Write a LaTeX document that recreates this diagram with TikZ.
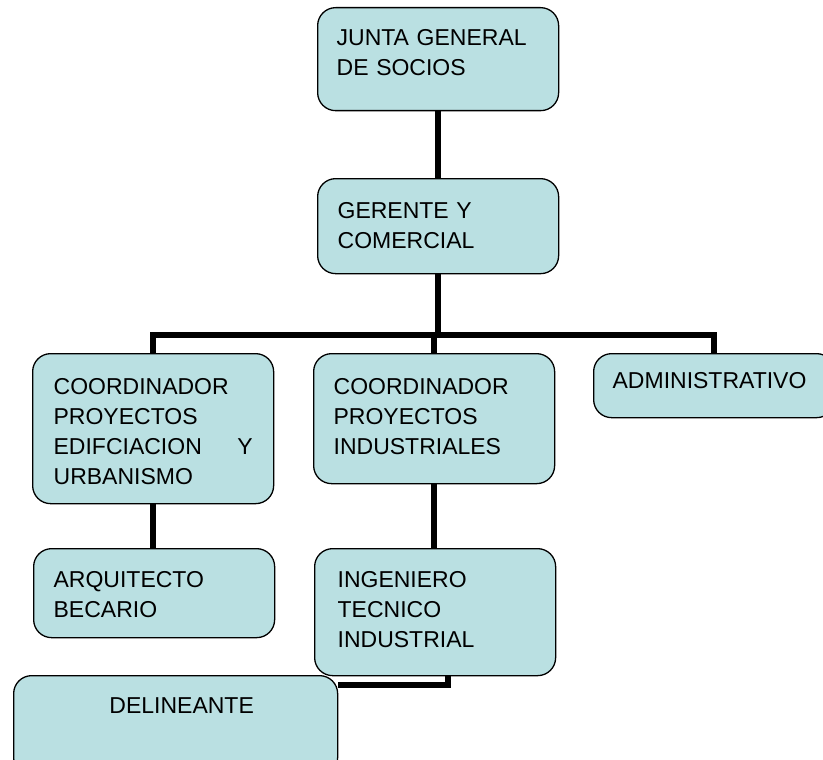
\documentclass[tikz,border=0pt]{standalone}
\usepackage{fontspec}
\setmainfont{Liberation Sans}
\usepackage{tikz}
\definecolor{cajaazul}{RGB}{186,224,226}
\tikzset{
  caja/.style={draw=black, line width=1.3pt, fill=cajaazul, rounded corners=18pt,
    anchor=north west, inner ysep=0pt, align=left,
    font=\fontsize{23}{30}\selectfont},
  linea/.style={line width=5.8pt}
}

\begin{document}
\begin{tikzpicture}[x=1pt,y=-1pt]
  \useasboundingbox (0,0) rectangle (823,760);
  \clip (0,0) rectangle (823,760);

  \node[caja, inner xsep=19pt, text width=203pt, text height=38pt, text depth=65pt] (junta) at (317,7) {JUNTA GENERAL\\DE SOCIOS};
  \node[caja, inner xsep=20pt, text width=201pt, text height=40pt, text depth=55pt] (gerente) at (317,178) {GERENTE Y\\COMERCIAL};

  \node[caja, inner xsep=21pt, text width=199pt, text height=41pt, text depth=109pt] (coord1) at (32,353) {COORDINADOR\\PROYECTOS\\EDIFCIACION\hfill Y\\URBANISMO};
  \node[caja, inner xsep=20pt, text width=201pt, text height=41pt, text depth=89pt] (coord2) at (313,353) {COORDINADOR\\PROYECTOS\\INDUSTRIALES};
  \node[caja, inner xsep=19pt, text width=203pt, text height=35pt, text depth=29pt] (admin) at (593,353) {ADMINISTRATIVO};

  \node[caja, inner xsep=20pt, text width=201pt, text height=39pt, text depth=50pt] (arqui) at (33,548) {ARQUITECTO\\BECARIO};
  \node[caja, inner xsep=23pt, text width=195pt, text height=39pt, text depth=88pt] (ingen) at (314,548) {INGENIERO\\TECNICO\\INDUSTRIAL};
  \node[caja, align=center, inner xsep=20pt, text width=284pt, text height=38pt, text depth=62pt] (delin) at (13,675) {\hspace*{12pt}DELINEANTE};

  % lineas de mando
  \draw[linea] (junta.south) -- (gerente.north);
  \path (gerente.south) ++(0,61) coordinate (barra);
  \draw[linea] (gerente.south) -- (barra);
  \draw[linea] (coord1.north) |- (barra) -| (admin.north);
  \draw[linea] (coord2.north) -- (coord2.north |- barra);
  \draw[linea] (coord1.south) -- (coord1.south |- arqui.north);
  \draw[linea] (coord2.south) -- (coord2.south |- ingen.north);
  \draw[linea] ([xshift=12.5pt]ingen.south) |- ([yshift=-10pt]delin.north east);
\end{tikzpicture}
\end{document}
